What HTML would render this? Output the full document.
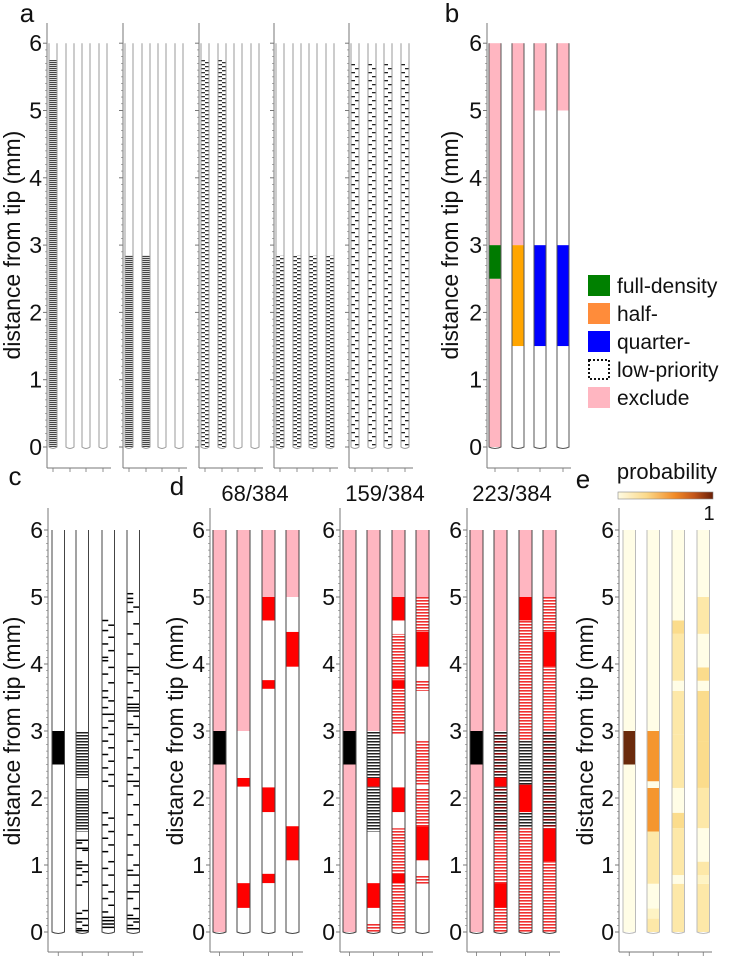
<!DOCTYPE html>
<html><head><meta charset="utf-8">
<style>
html,body{margin:0;padding:0;background:#fff;}
svg{display:block;font-family:"Liberation Sans","DejaVu Sans",sans-serif;}
</style></head>
<body>
<svg id="fig" width="751" height="956" viewBox="0 0 751 956" xmlns="http://www.w3.org/2000/svg">
<defs>
 <pattern id="aDense" width="4" height="2" patternUnits="userSpaceOnUse"><rect width="4" height="1.2" fill="#444"/></pattern>
 <pattern id="aHalfL" width="4" height="4" patternUnits="userSpaceOnUse"><rect width="4" height="1.3" fill="#333"/></pattern>
 <pattern id="aHalfR" width="4" height="4" patternUnits="userSpaceOnUse"><rect y="2" width="4" height="1.3" fill="#333"/></pattern>
 <pattern id="aSparseL" width="4" height="8" patternUnits="userSpaceOnUse"><rect width="4" height="1.3" fill="#222"/></pattern>
 <pattern id="aSparseR" width="4" height="8" patternUnits="userSpaceOnUse"><rect y="4" width="4" height="1.3" fill="#222"/></pattern>
 <pattern id="bh" width="4" height="3" patternUnits="userSpaceOnUse"><rect width="4" height="3" fill="#fff"/><rect width="4" height="1.5" fill="#222"/></pattern>
 <pattern id="rh" width="4" height="3" patternUnits="userSpaceOnUse"><rect width="4" height="3" fill="#fff"/><rect width="4" height="1.6" fill="#f03030"/></pattern>
 <pattern id="dh" width="4" height="6" patternUnits="userSpaceOnUse"><rect width="4" height="6" fill="#fff"/><rect width="4" height="1.6" fill="#222"/><rect y="3" width="4" height="1.6" fill="#8b0000"/></pattern>
 <linearGradient id="cbar" x1="0" x2="1" y1="0" y2="0">
  <stop offset="0" stop-color="#fffbe2"/><stop offset="0.3" stop-color="#fbd98a"/>
  <stop offset="0.6" stop-color="#f28a26"/><stop offset="0.8" stop-color="#c4561a"/><stop offset="1" stop-color="#6a2008"/>
 </linearGradient>
</defs>
<g id="root"></g>
</svg>
<script>
// ---------- data ----------
var yTicks = [0,1,2,3,4,5,6];
var panelLetters = ["a","b","c","d","e"];
var dTitles = ["68/384","159/384","223/384"];
var legendLabels = ["full-density","half-","quarter-","low-priority","exclude"];
var legendColors = ["#008000","#ff8c3a","#0000ff","none","#ffb6c1"];
var aFillTop = [[5.75,0,0,0],[2.85,2.85,0,0],[5.75,5.75,0,0],[2.85,2.85,2.85,2.85],[5.7,5.7,5.7,5.7]];
var aPattern = ["dense","dense","half","half","sparse"];
var bShanks = [
 [[0,2.5,"pink"],[2.5,3,"green"],[3,6,"pink"]],
 [[0,1.5,"white"],[1.5,3,"orange"],[3,6,"pink"]],
 [[0,1.5,"white"],[1.5,3,"blue"],[3,5,"white"],[5,6,"pink"]],
 [[0,1.5,"white"],[1.5,3,"blue"],[3,5,"white"],[5,6,"pink"]]
];
var cBlock = [[2.5,3]];
var cDense = [[2.3,3.0],[1.5,2.15]];
var cShank2Dashes = [[1.37,2],[1.33,0],[1.25,2],[1.22,1],[1.05,0],[1.0,2],[0.95,0],[0.9,1],[0.85,0],[0.75,1],[0.7,0],[0.32,1],[0.28,0],[0.2,2],[0.15,0],[0.1,1],[0.05,0],[0.02,2]];
var cShank3Dashes = [[4.65,0],[4.58,1],[4.5,0],[4.4,1],[4.3,0],[4.2,1],[4.1,0],[4.05,0],[3.95,1],[3.85,0],[3.72,1],[3.6,0],[3.5,0],[3.45,1],[3.35,0],[3.25,2],[3.15,1],[3.05,0],[2.95,1],[2.85,0],[2.75,1],[2.65,0],[2.55,1],[2.45,0],[2.35,1],[2.25,0],[2.18,1],[1.78,0],[1.7,1],[1.6,0],[1.5,1],[1.4,0],[1.3,1],[1.2,0],[1.05,1],[0.95,0],[0.85,1],[0.7,0],[0.6,1],[0.5,0],[0.4,1],[0.3,0],[0.22,2],[0.17,2],[0.12,2],[0.07,2]];
var cShank4Dashes = [[5.05,0],[4.98,0],[4.92,0],[4.85,1],[4.78,0],[4.6,1],[4.45,0],[4.3,1],[4.15,0],[3.95,2],[3.9,0],[3.85,1],[3.72,0],[3.6,1],[3.5,0],[3.4,2],[3.35,2],[3.3,2],[3.22,1],[3.1,0],[3.05,2],[2.95,1],[2.85,0],[2.72,1],[2.6,0],[2.45,1],[2.35,0],[2.25,2],[2.18,1],[2.05,0],[1.9,1],[1.75,0],[1.6,1],[1.45,0],[1.3,1],[1.15,0],[1.0,1],[0.92,0],[0.85,2],[0.7,1],[0.6,2],[0.5,0],[0.35,1],[0.25,0],[0.2,2],[0.15,1],[0.1,0],[0.05,2]];
var dPanels = [
 [
  [[0,2.5,"pink"],[2.5,3,"black"],[3,6,"pink"]],
  [[0,0.36,"white"],[0.36,0.73,"red"],[0.73,2.17,"white"],[2.17,2.3,"red"],[2.3,3,"white"],[3,6,"pink"]],
  [[0,0.73,"white"],[0.73,0.87,"red"],[0.87,1.79,"white"],[1.79,2.16,"red"],[2.16,3.63,"white"],[3.63,3.76,"red"],[3.76,4.65,"white"],[4.65,5,"red"],[5,6,"pink"]],
  [[0,1.07,"white"],[1.07,1.58,"red"],[1.58,3.96,"white"],[3.96,4.48,"red"],[4.48,5,"white"],[5,6,"pink"]]
 ],
 [
  [[0,2.5,"pink"],[2.5,3,"black"],[3,6,"pink"]],
  [[0,0.12,"rh"],[0.12,0.36,"white"],[0.36,0.73,"red"],[0.73,1.5,"white"],[1.5,2.17,"bh"],[2.17,2.3,"red"],[2.3,3,"bh"],[3,6,"pink"]],
  [[0,0.05,"white"],[0.05,0.73,"rh"],[0.73,0.87,"red"],[0.87,1.55,"rh"],[1.55,1.79,"white"],[1.79,2.16,"red"],[2.16,2.95,"white"],[2.95,3.63,"rh"],[3.63,3.76,"red"],[3.76,4.45,"rh"],[4.45,4.65,"white"],[4.65,5,"red"],[5,6,"pink"]],
  [[0,0.72,"white"],[0.72,0.85,"rh"],[0.85,1.07,"white"],[1.07,1.58,"red"],[1.58,2.15,"rh"],[2.15,2.2,"white"],[2.2,2.85,"rh"],[2.85,3.6,"white"],[3.6,3.75,"rh"],[3.75,3.96,"white"],[3.96,4.48,"red"],[4.48,5,"rh"],[5,6,"pink"]]
 ],
 [
  [[0,2.5,"pink"],[2.5,3,"black"],[3,6,"pink"]],
  [[0,0.36,"rh"],[0.36,0.73,"red"],[0.73,1.5,"rh"],[1.5,2.17,"dh"],[2.17,2.3,"red"],[2.3,3,"dh"],[3,6,"pink"]],
  [[0,1.55,"rh"],[1.55,1.79,"bh"],[1.79,2.2,"red"],[2.2,2.85,"bh"],[2.85,4.65,"rh"],[4.65,5,"red"],[5,6,"pink"]],
  [[0,1.05,"rh"],[1.05,1.55,"red"],[1.55,3.0,"dh"],[3.0,3.96,"rh"],[3.96,4.48,"red"],[4.48,5,"rh"],[5,6,"pink"]]
 ]
];
var eShanks = [
 [[0,2.5,"p0"],[2.5,3,"p9"],[3,6,"p0"]],
 [[0,0.2,"p2"],[0.2,0.35,"p1"],[0.35,0.72,"p0"],[0.72,1.5,"p2"],[1.5,2.15,"p6"],[2.15,2.25,"p0"],[2.25,3,"p6"],[3,6,"p0"]],
 [[0,0.72,"p2"],[0.72,0.85,"p0"],[0.85,1.55,"p2"],[1.55,1.78,"p3"],[1.78,2.15,"p0"],[2.15,2.95,"p2"],[2.95,3.6,"p2"],[3.6,3.75,"p0"],[3.75,4.45,"p2"],[4.45,4.65,"p3"],[4.65,6,"p0"]],
 [[0,0.72,"p2"],[0.72,0.85,"p1"],[0.85,1.05,"p2"],[1.05,1.55,"p0"],[1.55,2.15,"p2"],[2.15,2.85,"p3"],[2.85,3.6,"p3"],[3.6,3.75,"p0"],[3.75,3.95,"p3"],[3.95,4.45,"p0"],[4.45,5,"p2"],[5,6,"p0"]]
];
// ---------- drawing ----------
var FILL = {pink:"#ffb6c1",green:"#007a00",orange:"#ffa500",blue:"#0000ff",white:"#fff",red:"#ff0000",black:"#000",
 rh:"url(#rh)",bh:"url(#bh)",dh:"url(#dh)",p0:"#fffde6",p1:"#fef3c4",p2:"#fde8a8",p3:"#fbdc8c",p6:"#f5962f",p9:"#6a2a0c"};
var NS="http://www.w3.org/2000/svg";
var root=document.getElementById("root");
var TICKFS=23, TITLEFS=23;
function el(tag,attrs,parent){var e=document.createElementNS(NS,tag);for(var k in attrs)e.setAttribute(k,attrs[k]);(parent||root).appendChild(e);return e;}
function txt(s,x,y,size,anchor,parent){var t=el("text",{x:x,y:y,"font-size":size,"text-anchor":anchor||"middle",fill:"#111"},parent);t.textContent=s;return t;}
var TOP={zero:447,unit:67.3,spineTop:23,axisY:468};
var BOT={zero:932,unit:67,spineTop:508,axisY:952};
function yS(sc,v){return sc.zero-sc.unit*v;}

// ylabBase = baseline x of rotated axis title
function axes(g,sc,spineX,axisEnd,shankCenters,labels,ylabBase,lineCol){
  el("line",{x1:spineX,y1:sc.spineTop,x2:spineX,y2:sc.axisY,stroke:lineCol,"stroke-width":1},g);
  el("line",{x1:spineX,y1:sc.axisY,x2:axisEnd,y2:sc.axisY,stroke:lineCol,"stroke-width":1},g);
  for(var m=0;m<=60;m++){var v=m/10;var y=yS(sc,v);var major=(m%10===0);
    el("line",{x1:spineX-(major?4:2),y1:y,x2:spineX,y2:y,stroke:lineCol,"stroke-width":major?1:0.6},g);}
  shankCenters.forEach(function(cx){el("line",{x1:cx,y1:sc.axisY,x2:cx,y2:sc.axisY+4,stroke:lineCol,"stroke-width":0.8},g);});
  if(labels){
    yTicks.forEach(function(v){var t=txt(String(v),spineX-5,yS(sc,v)+8,TICKFS,"end",g);
      
      });
  }
  if(ylabBase!=null){var cy=(yS(sc,0)+yS(sc,6))/2;
    var t=txt("distance from tip (mm)",0,0,TITLEFS,"middle",g);
    t.setAttribute("transform","translate("+ylabBase+","+cy+") rotate(-90)");
    
    }
}
function shankOutline(g,sc,x,w,col){
  var y6=yS(sc,6),y0=yS(sc,0);
  var p=el("path",{d:"M"+x+" "+y6+" L"+x+" "+y0+" Q"+(x+w/2)+" "+(y0+3)+" "+(x+w)+" "+y0+" L"+(x+w)+" "+y6,fill:"none",stroke:col,"stroke-width":1},g);
  
  
}
function segs(g,sc,x,w,list){
  list.forEach(function(s){var r=el("rect",{x:x,y:yS(sc,s[1]),width:w,height:yS(sc,s[0])-yS(sc,s[1]),fill:FILL[s[2]]},g);
    
    });
}
function letter(s,x,y){var t=txt(s,x,y,26,"middle");
  
  }

// Panel a
var gA=el("g",{});


var aSpines=[47,123,199,274,349];
aSpines.forEach(function(sx,k){
  var xs=[sx+2,sx+19,sx+35,sx+52], w=8;
  axes(gA,TOP,sx,sx+64,xs.map(function(x){return x+w/2;}),k===0,k===0?20:null,"#777");
  xs.forEach(function(x,i){var top=aFillTop[k][i];
    if(top>0){var y1=yS(TOP,top),h=yS(TOP,0)-y1,pat=aPattern[k];
      if(pat==="dense"){el("rect",{x:x,y:y1,width:w,height:h,fill:"url(#aDense)"},gA);}
      else if(pat==="half"){el("rect",{x:x,y:y1,width:w/2,height:h,fill:"url(#aHalfL)"},gA);el("rect",{x:x+w/2,y:y1,width:w/2,height:h,fill:"url(#aHalfR)"},gA);}
      else {el("rect",{x:x,y:y1,width:w/2,height:h,fill:"url(#aSparseL)"},gA);el("rect",{x:x+w/2,y:y1,width:w/2,height:h,fill:"url(#aSparseR)"},gA);}
    }
    shankOutline(gA,TOP,x,w,"#999");
  });
});
letter("a",27,22);

// Panel b
var gB=el("g",{});


var bX=[489,512,534,557];
axes(gB,TOP,487,571,bX.map(function(x){return x+6;}),true,458,"#777");
bX.forEach(function(x,i){segs(gB,TOP,x,12,bShanks[i]);shankOutline(gB,TOP,x,12,"#555");});
letter("b",452,22);
var gL=el("g",{});


legendLabels.forEach(function(lab,i){var y=275+i*28;
  if(legendColors[i]==="none"){el("rect",{x:589,y:y+1,width:20,height:19,fill:"#fff",stroke:"#111","stroke-width":2,"stroke-dasharray":"2 2"},gL);}
  else el("rect",{x:588,y:y,width:22,height:21,fill:legendColors[i]},gL);
  var t=txt(lab,617,y+18,21,"start",gL);
  
  
});

// Panel c
var gC=el("g",{});


var cX=[52,76,102,127], cw=12.5;
axes(gC,BOT,48,143,cX.map(function(x){return x+cw/2;}),true,20,"#777");
cBlock.forEach(function(b){el("rect",{x:cX[0],y:yS(BOT,b[1]),width:cw,height:yS(BOT,b[0])-yS(BOT,b[1]),fill:"#000"},gC);});
cDense.forEach(function(b){el("rect",{x:cX[1],y:yS(BOT,b[1]),width:cw,height:yS(BOT,b[0])-yS(BOT,b[1]),fill:"url(#bh)"},gC);});
function dashes(list,x){list.forEach(function(d){var w=d[1]===2?cw:cw/2,xx=d[1]===1?x+cw/2:x;
  var r=el("rect",{x:xx,y:yS(BOT,d[0])-0.7,width:w,height:1.5,fill:"#000"},gC);
  
  });}
dashes(cShank2Dashes,cX[1]);dashes(cShank3Dashes,cX[2]);dashes(cShank4Dashes,cX[3]);
cX.forEach(function(x){shankOutline(gC,BOT,x,cw,"#444");});
letter("c",15,485);

// Panel d
var dSp=[210,340,467];
dSp.forEach(function(sx,k){
  var g=el("g",{});
  
  
  var xs=[sx+3,sx+27,sx+52,sx+76], w=13;
  axes(g,BOT,sx,sx+93,xs.map(function(x){return x+w/2;}),true,k===0?183:null,"#777");
  xs.forEach(function(x,i){segs(g,BOT,x,w,dPanels[k][i]);shankOutline(g,BOT,x,w,"#444");});
  var t=txt(dTitles[k],sx+45,501,22,"middle",g);
  
  
});
letter("d",177,495);

// Panel e
var gE=el("g",{});


var eX=[623,647,672,697], ew=12.5;
axes(gE,BOT,619,712,eX.map(function(x){return x+ew/2;}),true,593,"#777");
eX.forEach(function(x,i){segs(gE,BOT,x,ew,eShanks[i]);shankOutline(gE,BOT,x,ew,"#bbb");});
letter("e",583,488);
var cb=el("rect",{x:618,y:492,width:95,height:7,fill:"url(#cbar)",stroke:"#888","stroke-width":0.6},gE);


var ct=txt("probability",667,479,22,"middle",gE);


var c1=txt("1",709,520,20,"middle",gE);


</script>
</body></html>
